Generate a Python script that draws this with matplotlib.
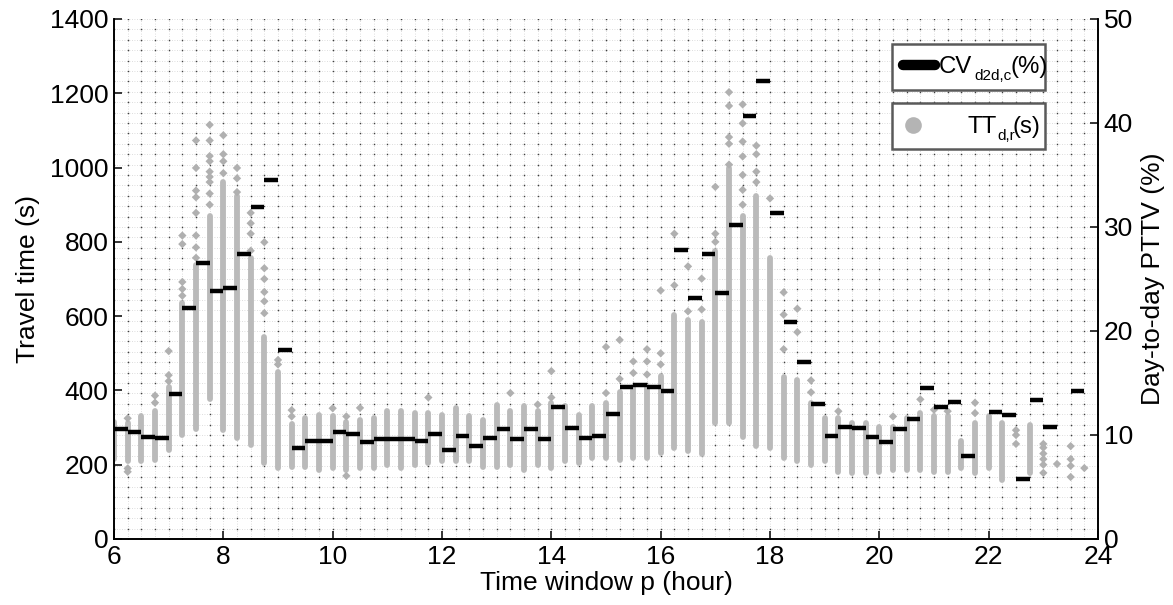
import numpy as np
import matplotlib
matplotlib.use('Agg')
from matplotlib import pyplot as plt
from matplotlib.lines import Line2D
from matplotlib.patches import Rectangle

plt.rcParams['font.family'] = ['Liberation Sans', 'DejaVu Sans']

#  time windows (start hour), 15 min each
windows = np.arange(6.0, 24.0, 0.25)

#  day-to-day PTTV per window (%), nan = no value
cv_d2d = [10.6, 10.3, 9.85, 9.72, 13.9, 22.2, 26.5, 23.8, 24.1, 27.4, 31.9, 34.5,
          18.2, 8.73, 9.46, 9.46, 10.3, 10.05, 9.3, 9.6, 9.6, 9.6, 9.46, 10.05,
          8.6, 9.95, 8.96, 9.72, 10.6, 9.6, 10.6, 9.6, 12.7, 10.7, 9.72, 9.9,
          12.0, 14.6, 14.8, 14.6, 14.2, 27.8, 23.2, 27.4, 23.7, 30.2, 40.7, 44.0,
          31.3, 20.9, 17.0, 13.0, 9.9, 10.8, 10.7, 9.8, 9.3, 10.55, 11.55, 14.5,
          12.7, 13.2, 7.96, np.nan, 12.2, 11.9, 5.74, 13.4, 10.8, np.nan, 14.2, np.nan]

#  dense part of the daily travel times in each window (s)
tt_low = [215, 209, 209, 214, 240, 280, 297, 376, 293, 272, 252, 204,
          190, 195, 195, 186, 190, 185, 190, 190, 200, 190, 200, 204,
          209, 209, 209, 195, 195, 200, 186, 200, 190, 209, 204, 218,
          218, 213, 218, 218, 232, 246, 237, 228, 311, 311, 274, 251,
          246, 218, 209, 200, 209, 181, 177, 177, 181, 186, 186, 186,
          181, 180, 190, 177, 190, 158, np.nan, 177, np.nan, np.nan, np.nan, np.nan]
tt_high = [315, 311, 330, 344, 410, 636, 739, 870, 960, 924, 757, 545,
           450, 310, 325, 334, 330, 315, 320, 325, 344, 344, 339, 339,
           334, 353, 330, 320, 362, 344, 358, 344, 367, 358, 334, 358,
           367, 395, 410, 410, 440, 604, 590, 585, 776, 999, 869, 924,
           757, 437, 427, 367, 325, 325, 311, 311, 302, 302, 325, 340,
           330, 330, 265, 311, 330, 311, np.nan, 306, np.nan, np.nan, np.nan, np.nan]

#  scattered single days outside the dense part (s)
tt_extra = [[], [325, 190, 181], [], [367, 386], [425, 441, 506],
            [655, 673, 692, 794, 817],
            [757, 785, 817, 878, 920, 938, 999, 1073],
            [900, 930, 961, 975, 989, 1017, 1031, 1073, 1115],
            [985, 1017, 1036, 1087], [934, 971, 999], [776, 822, 850, 878],
            [608, 640, 665, 700, 729, 799],
            [470, 482], [330, 347], [], [], [352], [170, 330], [353], [], [], [], [], [381],
            [], [], [], [], [], [393], [], [362], [381, 452], [], [], [],
            [393, 517], [431, 536], [447, 478], [443, 478, 511], [470, 500, 669],
            [683, 822], [613, 734], [618, 701], [800, 822, 948],
            [1008, 1064, 1082, 1166, 1203],
            [900, 940, 980, 1030, 1070, 1119, 1170], [961, 989, 1036, 1059],
            [917], [511, 604, 664], [557, 620], [395, 427], [], [344], [], [], [], [330], [], [376],
            [348], [344], [], [339, 367], [], [], [256, 280, 293], [],
            [178, 200, 215, 230, 246, 256], [202], [167, 197, 215, 250], [191]]

grey = '#bababa'
W, H = 1173, 605

fig = plt.figure(figsize=(W/100, H/100), dpi=100)
ax = fig.add_axes([114/W, 1-539/H, 984/W, 520/H])
ax2 = ax.twinx()

#  dotted grid, black dots where lines cross
gx = np.arange(6.0, 24.001, 0.25)
gy = np.arange(0, 1400.1, 28)
for x in gx:
    ax.axvline(x, color='#d2d2d2', lw=0.6, ls=(0, (1, 2)), zorder=0)
for y in gy:
    ax.axhline(y, color='#d2d2d2', lw=0.6, ls=(0, (1, 2)), zorder=0)
GX, GY = np.meshgrid(gx, gy)
ax.plot(GX.ravel(), GY.ravel(), ls='none', marker='s', ms=1.0, mec='none', mfc='#404040', zorder=0.5)

#  travel time scatter
ax.vlines(windows, tt_low, tt_high, colors=grey, lw=4.2, capstyle='round', zorder=2)
ex_t = [windows[i] for i, v in enumerate(tt_extra) for _ in v]
ex_v = [val for v in tt_extra for val in v]
ax.scatter(ex_t, ex_v, s=18, marker='D', color='#b0b0b0', edgecolors='none', zorder=2)

#  PTTV bars
ax2.hlines(cv_d2d, windows, windows + 0.25, colors='black', lw=3.2, zorder=3)

ax.set_xlim(6, 24)
ax.set_ylim(0, 1400)
ax2.set_ylim(0, 50)
ax.set_xticks(np.arange(6, 25, 2))
ax.set_yticks(np.arange(0, 1401, 200))
ax2.set_yticks(np.arange(0, 51, 10))

for a in (ax, ax2):
    a.spines['top'].set_visible(False)
    for s in a.spines.values():
        s.set_linewidth(1.2)
    a.tick_params(direction='in', length=6, width=1.1, labelsize=19, pad=4)
ax.tick_params(axis='x', pad=4.5)

ax.set_xlabel('Time window p (hour)', fontsize=19, labelpad=1)
ax.set_ylabel('Travel time (s)', fontsize=19, labelpad=7)
ax2.set_ylabel('Day-to-day PTTV (%)', fontsize=19, labelpad=6)


#  legend drawn as two separate boxes, pixel coords from top-left
def fx(px):
    return px / W


def fy(py):
    return 1 - py / H


for top in (44, 103):
    fig.patches.append(Rectangle((fx(892), fy(top + 46)), fx(1045) - fx(892), fy(top) - fy(top + 46),
                                 transform=fig.transFigure, facecolor='white', edgecolor='#5a5a5a',
                                 lw=1.8, zorder=10))
fig.lines.append(Line2D([fx(903), fx(935)], [fy(65), fy(65)], transform=fig.transFigure,
                        color='black', lw=7.5, solid_capstyle='round', zorder=11))
fig.lines.append(Line2D([fx(913)], [fy(125)], transform=fig.transFigure, ls='none', marker='o',
                        ms=12, mfc='#b4b4b4', mec='none', zorder=11))

big, small = 17.3, 11
fig.text(fx(939), fy(73), 'CV', fontsize=big, va='baseline', ha='left', zorder=12)
fig.text(fx(974), fy(80), 'd2d,c', fontsize=small, va='baseline', ha='left', zorder=12)
fig.text(fx(1010), fy(73), '(%)', fontsize=big, va='baseline', ha='left', zorder=12)
fig.text(fx(968), fy(133), 'TT', fontsize=big, va='baseline', ha='left', zorder=12)
fig.text(fx(997), fy(140), 'd,r', fontsize=small, va='baseline', ha='left', zorder=12)
fig.text(fx(1013), fy(133), '(s)', fontsize=big, va='baseline', ha='left', zorder=12)

fig.savefig('out.png', dpi=100)
